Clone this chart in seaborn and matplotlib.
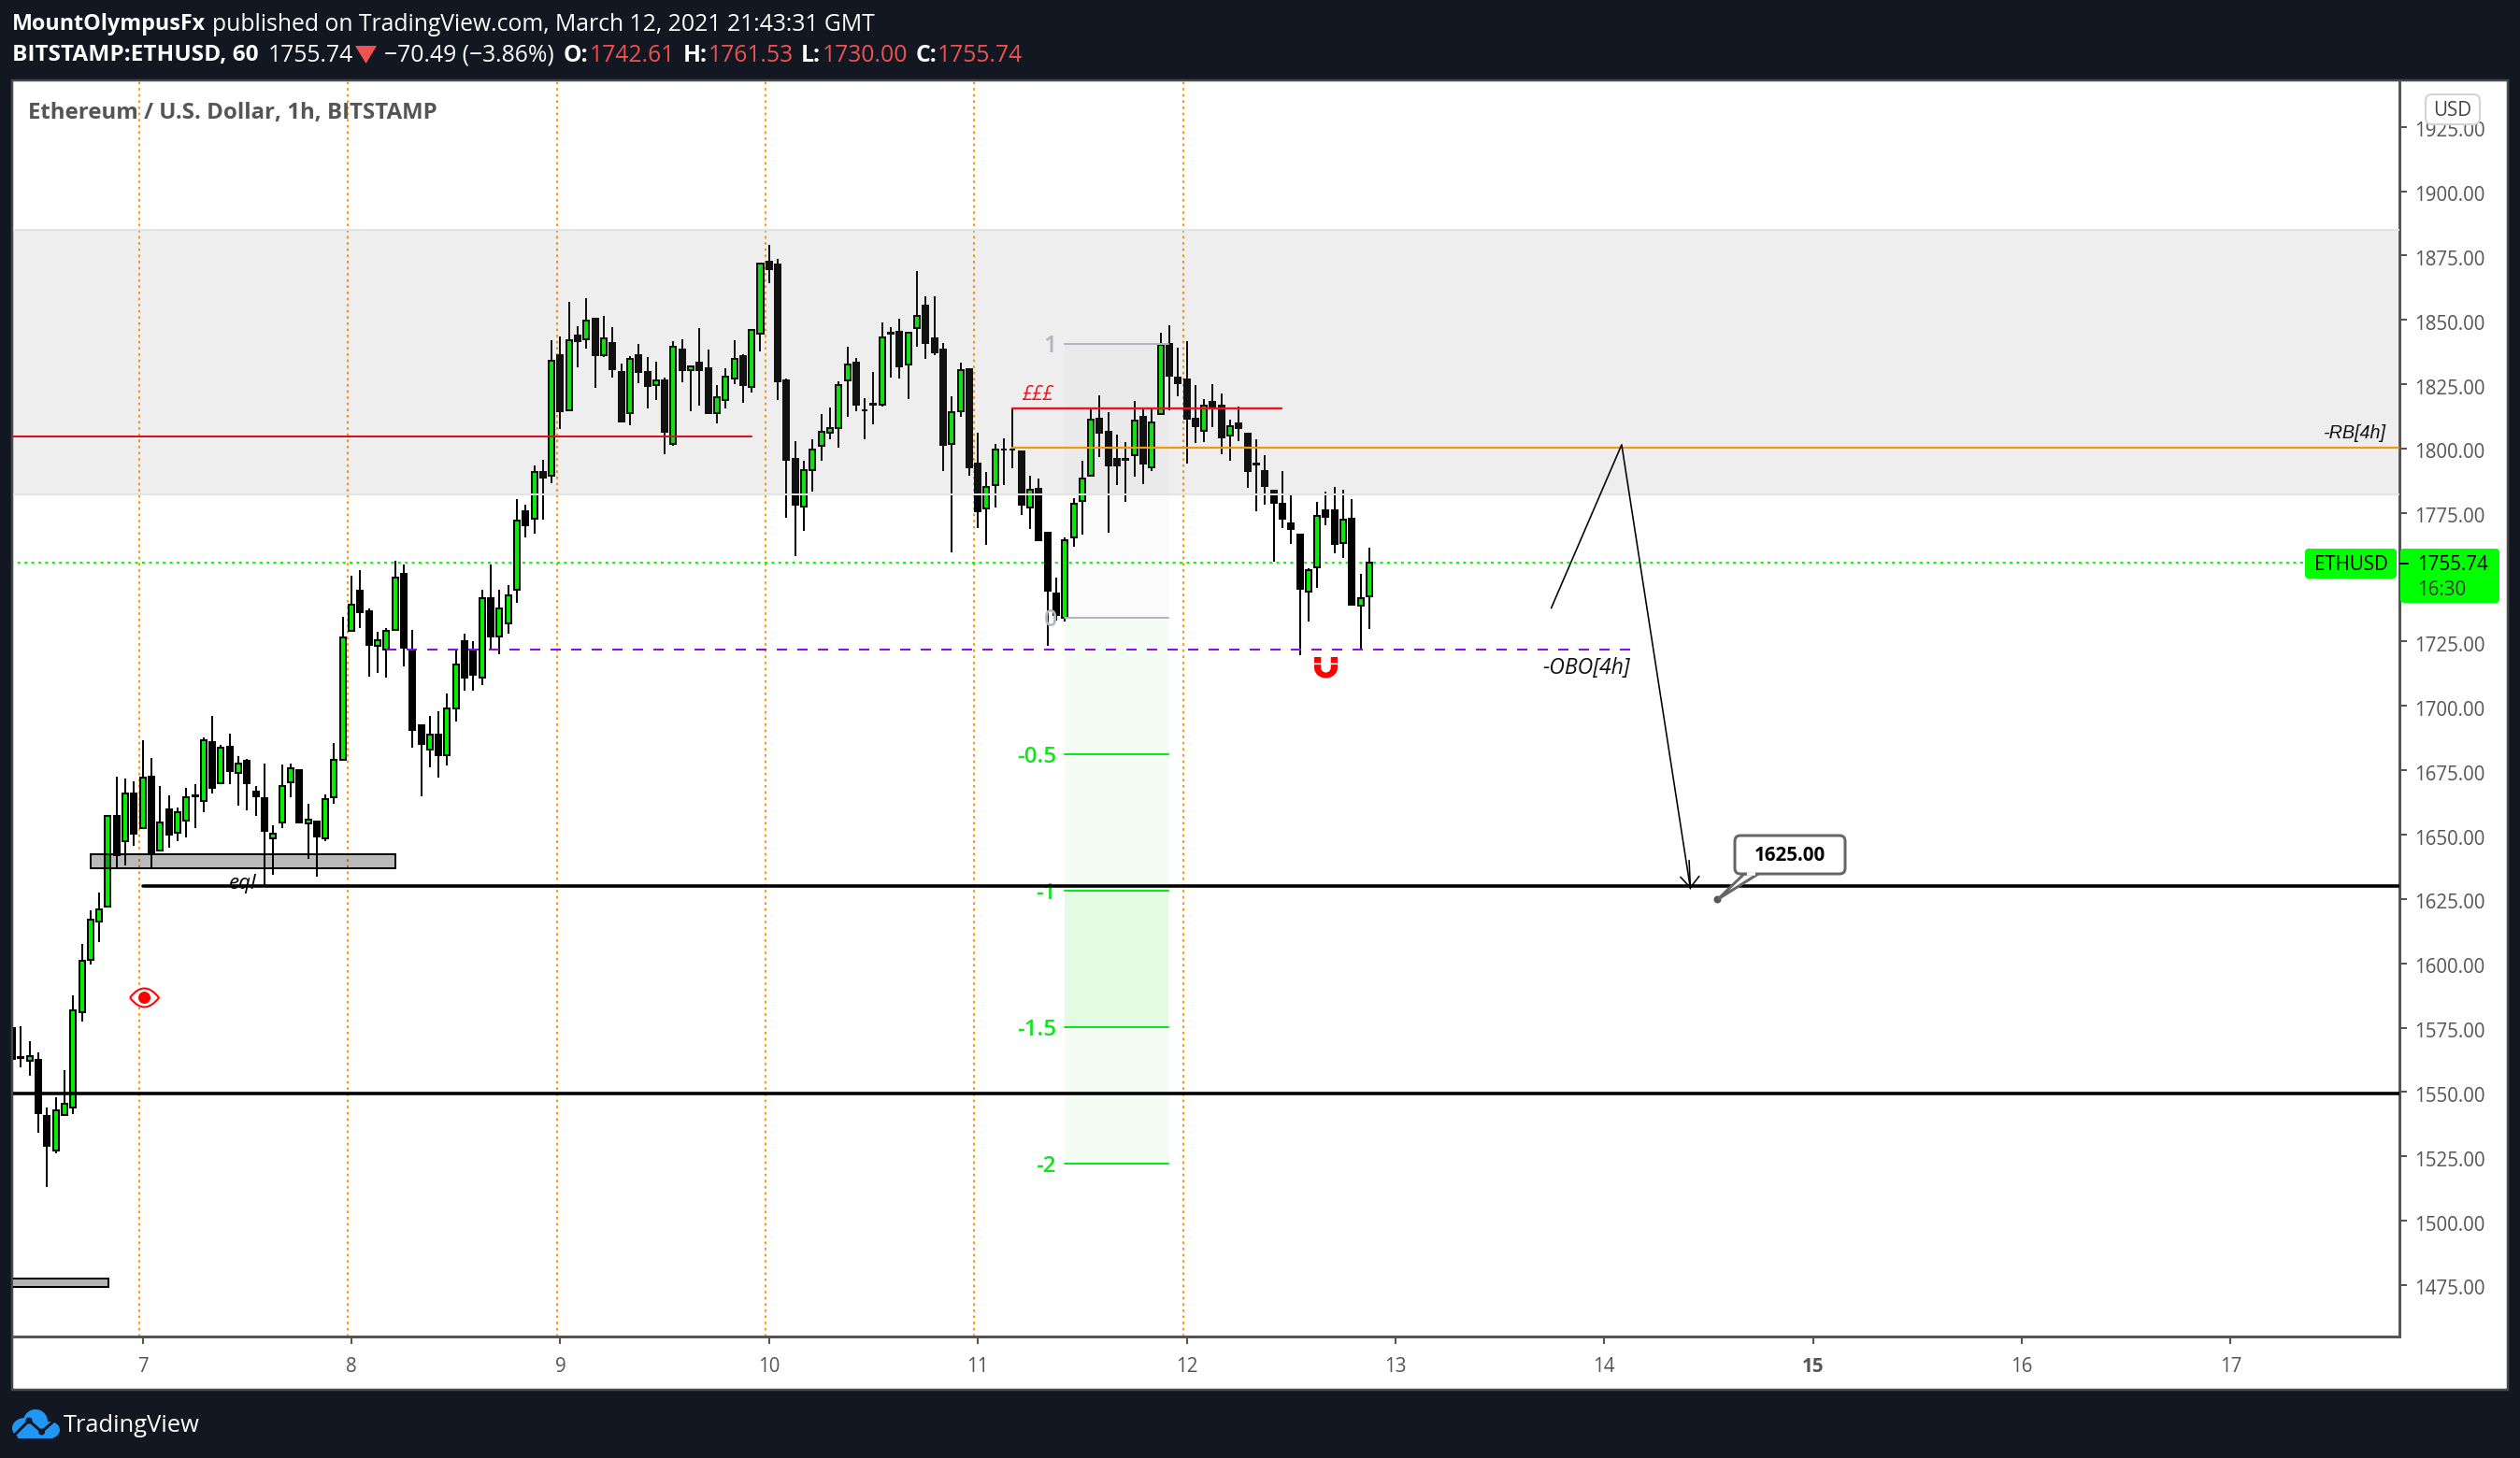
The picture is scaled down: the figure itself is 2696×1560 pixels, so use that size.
import numpy as np
import pandas as pd
import seaborn as sns
import matplotlib
matplotlib.use("Agg")
import matplotlib.pyplot as plt
from matplotlib.patches import Rectangle, FancyBboxPatch, Polygon, Circle, Ellipse
from matplotlib.path import Path
from matplotlib.transforms import ScaledTranslation

# candles, hours counted from March 7 00:00
hours = list(range(-15, 142))
opens = [1574.9,1563.7,1562.2,1562.5,1540.8,1527.1,1541.0,1544.1,1580.9,1601.3,1616.3,1622.1,1657.4,1647.5,1666.1,
         1652.6,1672.6,1643.9,1659.8,1650.8,1655.5,1665.2,1663.1,1686.0,1670.0,1684.2,1674.0,1678.7,1666.7,1664.2,1648.5,1654.6,
         1670.4,1675.1,1654.3,1655.0,1648.7,1664.6,1679.1,1729.2,1744.8,1736.8,1723.4,1721.9,1729.4,1751.3,1721.2,1692.5,
         1683,1689,1681,1699,1725,1722,1711,1742,1727,1732,1745,1775.7,1772.8,1790.9,1789.5,1836.3,1814.8,1843.9,1842.4,
         1850.5,1836.2,1841.0,1829.8,1813.7,1836.3,1829.8,1824.8,1826.5,1801.9,1838.5,1830.4,1833.4,1831.2,1813.9,1819.0,
         1827.4,1836.0,1823.9,1844.6,1872.6,1871.5,1826.5,1796.0,1777.6,1791.5,1801.0,1806.1,1807.9,1826.5,1833.4,1815.0,
         1817.4,1817.2,1845.0,1845.4,1832.6,1846.8,1855.6,1842.9,1838.5,1801.7,1814.4,1830.9,1794.2,1776.6,1785.8,1799.8,
         1799.8,1798.8,1777.0,1784.3,1767.2,1743.7,1734.4,1765.4,1779.6,1789.5,1811.6,1806.5,1796.0,1796.1,1797.5,1812.4,
         1792.9,1813.3,1840.7,1827.6,1826.9,1811.6,1806.8,1818.2,1816.6,1805.1,1809.8,1805.8,1794.2,1791.3,1783.7,1778.6,
         1770.9,1766.6,1744.3,1753.8,1775.9,1775.9,1763.3,1772.6,1739.0,1742.61]
highs = [1583.6,1575.6,1569.8,1565.4,1544.0,1548.0,1558.5,1587.6,1607.6,1620.6,1627.5,1657.4,1672.6,1671.7,1670.7,
         1686.7,1679.8,1668.9,1665.3,1660.6,1668.2,1669.7,1687.7,1696.2,1684.9,1689.3,1680.5,1679.3,1668.9,1677.6,1653.7,1677.3,
         1677.6,1675.1,1662.0,1655.4,1665.7,1685.6,1734.7,1750.6,1752.8,1737.9,1728.8,1730.2,1756.4,1755.0,1729.6,1693,
         1696,1698,1705,1722,1728,1725,1745,1755,1745,1747,1780.4,1778.2,1793.5,1795.6,1842.1,1843.6,1857.0,1847.6,1858.5,
         1850.5,1851.6,1847.2,1833.0,1835.9,1840.7,1835.6,1833.8,1827.6,1841.8,1842.5,1832.1,1846.8,1838.5,1824.7,1831.2,
         1842.1,1836.6,1846.2,1872.0,1879.2,1873.7,1827.2,1802.9,1795.3,1803.6,1813.4,1816.0,1826.0,1839.6,1835.2,1819.6,
         1829.8,1849.0,1847.2,1850.5,1845.1,1869.0,1859.2,1859.2,1841.0,1820.3,1833.4,1830.9,1806.2,1790.9,1801.8,1804.0,
         1815.5,1798.8,1789.5,1788.4,1767.2,1749.8,1765.5,1780.6,1795.2,1815.1,1820.7,1814.2,1805.5,1802.5,1818.5,1815.1,
         1815.1,1845.0,1847.8,1839.2,1841.8,1824.7,1819.2,1825.1,1821.4,1811.3,1816.3,1805.8,1803.6,1797.5,1783.7,1791.3,
         1782.6,1766.6,1753.4,1779.2,1783.3,1785.1,1784.0,1780.4,1751.4,1761.53]
lows = [1560.8,1559.6,1556.4,1534.0,1513.1,1526.2,1541.0,1541.6,1577.5,1599.7,1608.2,1622.1,1637.2,1638.2,1645.7,
        1652.6,1637.2,1643.9,1645.1,1647.5,1649.0,1652.6,1658.7,1666.0,1670.0,1669.7,1661.3,1659.5,1657.3,1630.5,1634.5,1652.6,
        1664.6,1654.8,1640.7,1633.8,1647.3,1662.1,1679.1,1729.2,1730.3,1711.4,1712.9,1711.0,1729.4,1715.4,1683.8,1665,
        1676,1672,1677,1694,1706,1706,1708,1722,1720,1728,1740,1765.5,1767.1,1772.4,1786.7,1807.6,1814.8,1831.6,1838.9,
        1823.6,1835.6,1827.6,1810.5,1809.1,1825.4,1815.6,1818.9,1797.8,1801.1,1825.8,1814.5,1816.7,1813.8,1809.8,1815.6,
        1825.1,1817.8,1821.8,1837.8,1864.3,1818.9,1773.1,1758.2,1768.0,1783.3,1795.3,1803.6,1800.4,1812.3,1814.5,1803.6,
        1809.4,1816.4,1827.6,1827.2,1819.3,1839.6,1834.9,1836.3,1791.3,1759.5,1812.3,1789.5,1769.1,1762.6,1777.1,1785.8,
        1792.4,1774.2,1768.8,1764.4,1723.2,1733,1732.8,1761.9,1766.6,1789.5,1796.7,1767.3,1785.8,1779.3,1789.1,1786.2,
        1791.3,1813.3,1814.9,1820.3,1794.2,1802.2,1802.6,1808.4,1797.8,1795.3,1802.9,1784.8,1775.7,1778.2,1756.1,1769.1,
        1763.0,1719.8,1732.8,1745.9,1770.2,1759.3,1757.5,1739.5,1722.0,1730.00]
closes = [1563.0,1563.3,1564.0,1541.9,1528.9,1542.8,1545.6,1581.6,1601.1,1617.0,1621.1,1657.4,1642.1,1666.1,1650.5,
          1672.3,1642.3,1654.8,1649.9,1658.7,1664.7,1664.9,1686.8,1668.3,1683.9,1674.7,1677.6,1669.8,1664.9,1651.5,1650.5,1669.0,
          1675.9,1654.8,1655.7,1649.4,1663.9,1679.2,1726.8,1739.5,1736.6,1723.9,1725.7,1729.0,1749.7,1722.5,1690.8,1685.3,
          1689,1681,1699,1716,1711,1712,1742,1727,1738,1743,1772.2,1770.3,1790.9,1788.9,1834.3,1814.5,1842.2,1841.8,1849.9,
          1836.3,1843.0,1830.9,1810.5,1835.0,1829.8,1824.3,1826.6,1806.5,1839.7,1830.5,1832.1,1830.5,1813.8,1819.9,1828.1,
          1835.0,1824.7,1846.2,1872.0,1869.7,1826.1,1795.6,1778.2,1791.8,1799.5,1806.4,1807.8,1824.8,1832.6,1817.2,1814.7,
          1817.1,1843.3,1844.7,1832.0,1845.1,1851.7,1841.2,1837.4,1801.5,1814.3,1830.6,1792.7,1775.7,1785.2,1799.8,1799.5,
          1799.5,1778.2,1784.1,1764.5,1744.9,1735.3,1764.5,1778.7,1788.5,1811.4,1806.3,1793.6,1793.6,1795.8,1810.7,1794.2,
          1810.3,1840.3,1828.3,1825.4,1811.6,1808.7,1816.6,1816.0,1804.4,1808.8,1808.0,1791.3,1793.9,1785.5,1778.9,1772.8,
          1768.8,1745.5,1752.9,1774.0,1773.6,1763.1,1772.5,1739.5,1741.9,1755.74]

price_ticks = [1475,1500,1525,1550,1575,1600,1625,1650,1675,1700,1725,1750,1775,1800,1825,1850,1875,1900,1925]
day_ticks = [0,24,48,72,96,120,144,168,192,216,240]
day_labels = ['7','8','9','10','11','12','13','14','15','16','17']
session_lines = [-0.4,23.6,47.6,71.6,95.6,119.6]

zone_low, zone_high = 1782.1, 1885.0
last_price = 1755.74
fib_hours = [106, 117.9]
fib_top, fib_zero = 1840.8, 1734.4
fib_levels = [1681.4, 1628.2, 1575.1, 1522.2]
fib_labels = ['-0.5', '-1', '-1.5', '-2']
path_hours = [161.9, 170.0, 177.9]
path_prices = [1738.0, 1801.5, 1629.0]

sns.set_theme(style='white')
plt.rcParams['font.family'] = ['Open Sans', 'DejaVu Sans']

W, H = 2696, 1560
DARK = '#131722'
PX = 72 / 200  # one pixel in points
GREY = '#555555'

fig = plt.figure(figsize=(W / 200, H / 200), dpi=200, facecolor=DARK)


def px_axes(z):
    a = fig.add_axes([0, 0, 1, 1], zorder=z)
    a.set_xlim(0, W)
    a.set_ylim(H, 0)
    a.axis('off')
    a.patch.set_visible(False)
    return a


back = px_axes(0)
back.add_patch(Rectangle((13, 86), 2670, 1400.5, fc='white', ec='#4a4a4a', lw=2.5 * PX))

ax = fig.add_axes([14 / W, 1 - 1430 / H, (2567 - 14) / W, (1430 - 87) / H], zorder=1)
ax.patch.set_visible(False)

# fib background, very faint
ax.fill_between(fib_hours, fib_zero, fib_top, color='#fbfbfb', lw=0, zorder=1)
ax.fill_between(fib_hours, fib_levels[1], fib_zero, color='#f3fdf3', lw=0, zorder=1)
ax.fill_between(fib_hours, fib_levels[2], fib_levels[1], color='#e2fbe2', lw=0, zorder=1)
ax.fill_between(fib_hours, fib_levels[3], fib_levels[2], color='#f3fdf3', lw=0, zorder=1)

for h in session_lines:
    ax.axvline(h, color='#ff9800', lw=2 * PX, ls=(0, (1.3, 2.0)), zorder=1.5)

# candles: wicks through seaborn, bodies as bars
wick_df = pd.DataFrame({
    'candle': np.repeat(hours, 2),
    'hour': np.repeat(hours, 2),
    'price': np.column_stack([lows, highs]).ravel(),
})
sns.lineplot(data=wick_df, x='hour', y='price', units='candle', estimator=None,
             color='black', linewidth=2 * PX, ax=ax, legend=False, zorder=3,
             solid_capstyle='butt')

o = np.array(opens)
c = np.array(closes)
up = c > o
ax.bar(np.array(hours)[up], (c - o)[up], bottom=o[up], width=0.645, color='#00ee00',
       edgecolor='black', linewidth=2 * PX, zorder=3.2)
ax.bar(np.array(hours)[~up], (c - o)[~up], bottom=o[~up], width=0.645, color='black',
       edgecolor='black', linewidth=2 * PX, zorder=3.2)

# grey zone sits over the candles
ax.axhspan(zone_low, zone_high, color=(0.5, 0.5, 0.5), alpha=0.135, lw=0, zorder=4)
ax.axhline(zone_low, color='#e3e3e3', lw=2 * PX, zorder=4)
ax.axhline(zone_high, color='#e3e3e3', lw=2 * PX, zorder=4)

# drawn levels
ax.plot([-16, 70], [1804.7, 1804.7], color='#d8101c', lw=2 * PX, zorder=5)
ax.plot([100, 130.9], [1815.6, 1815.6], color='#ee1120', lw=2.4 * PX, zorder=5)
ax.plot([100, 260], [1800.2, 1800.2], color='#f09810', lw=2.2 * PX, zorder=5)
ax.plot([-16, 248.5], [last_price, last_price], color='#00ff00', lw=2 * PX,
        ls=(0, (1.5, 2.2)), zorder=2)
ax.plot([28.0, 171.0], [1722.0, 1722.0], color='#9c00ff', lw=2 * PX,
        ls=(0, (5.5, 5.5)), zorder=5)
ax.plot([0, 260], [1630, 1630], color='black', lw=3.6 * PX, zorder=5)
ax.plot([-16, 260], [1549.4, 1549.4], color='black', lw=3.6 * PX, zorder=5)

# fib lines and labels
for v in [fib_top, fib_zero]:
    ax.plot(fib_hours, [v, v], color='#b2b5be', lw=2 * PX, zorder=5)
ax.text(104.3, fib_top, '1', color='#b2b5be', fontsize=9, fontweight='semibold',
        ha='center', va='center_baseline', zorder=6)
ax.text(104.4, fib_zero, '0', color='#b2b5be', fontsize=9, fontweight='semibold',
        ha='center', va='center_baseline', zorder=6)
for v, lab in zip(fib_levels, fib_labels):
    ax.plot(fib_hours, [v, v], color='#0be81a', lw=2 * PX, zorder=5)
    ax.text(105, v, lab, color='#0be81a', fontsize=8.7, fontweight='semibold',
            ha='right', va='center_baseline', zorder=4.5)

# supply boxes
ax.add_patch(Rectangle((-6, 1637.1), 35, 5.1, fc=(0, 0, 0, 0.27), ec='black', lw=2 * PX, zorder=5))
ax.add_patch(Rectangle((-16, 1474.4), 12.1, 3.2, fc=(0.7, 0.7, 0.7), ec='black', lw=2 * PX, zorder=5))

ax.text(11.5, 1631.0, 'eql', style='italic', color='black', fontsize=8.0, ha='center', va='center', zorder=6)
ax.text(102.9, 1820.7, '£££', style='italic', color='#ee1120', fontsize=7.4, ha='center', va='center', zorder=6)
ax.text(171, 1714.5, '-OBO[4h]', style='italic', color='#111111', fontsize=8.3, ha='right', va='center', zorder=6)
ax.text(257.9, 1806.0, '-RB[4h]', style='italic', family='Liberation Sans', color='#111111',
        fontsize=7.1, ha='right', va='center', zorder=6)

# projected path
path_df = pd.DataFrame({'order': range(3), 'hour': path_hours, 'price': path_prices})
sns.lineplot(data=path_df, x='hour', y='price', sort=False, estimator=None,
             color='black', linewidth=1.6 * PX, ax=ax, legend=False, zorder=6)
ax.annotate('', xy=(path_hours[2], path_prices[2]), xytext=(177.75, 1640),
            arrowprops=dict(arrowstyle='->,head_length=0.35,head_width=0.3', color='black',
                            lw=1.6 * PX, shrinkA=0, shrinkB=0), zorder=6)

# eye icon
eye = Path([(-1, 0), (0, 1.3), (1, 0), (0, -1.3), (-1, 0)],
           [Path.MOVETO, Path.CURVE3, Path.CURVE3, Path.CURVE3, Path.CURVE3])
ax.plot([0.1], [1587.0], marker=eye, ms=31 * 1.3 * PX, mfc='white', mec='#ff0000', mew=2 * PX, zorder=6)
ax.plot([0.1], [1587.0], marker='o', ms=13 * PX, mfc='#ff0000', mec='#ff0000', mew=0, zorder=6.1)

# magnet icon
theta = np.linspace(np.pi, 2 * np.pi, 30)
outer = np.column_stack([np.cos(theta), 0.9 * np.sin(theta) + 0.1])
inner = np.column_stack([0.42 * np.cos(theta[::-1]), 0.42 * np.sin(theta[::-1]) + 0.1])
body = np.vstack([[(-1, 0.35)], outer, [(1, 0.35), (0.42, 0.35)], inner, [(-0.42, 0.35), (-1, 0.35)]])
arm_l = np.array([(-1, 1), (-0.42, 1), (-0.42, 0.48), (-1, 0.48), (-1, 1)])
arm_r = arm_l * [-1, 1]
verts = np.vstack([body, arm_l, arm_r])
codes = []
for part in (body, arm_l, arm_r):
    codes += [Path.MOVETO] + [Path.LINETO] * (len(part) - 2) + [Path.CLOSEPOLY]
ax.plot([136.0], [1714.5], marker=Path(verts, codes), ms=25 * PX, mfc='#ff0000', mec='none', zorder=6)

# callout anchor
ax.plot([181.0], [1625.0], marker='o', ms=8 * PX, color='#555555', mew=0, zorder=6.5)

# axes
ax.set_xlim(-14.9, 259.4)
ax.set_ylim(1455.0, 1942.7)
ax.set_xlabel('')
ax.set_ylabel('')
ax.yaxis.tick_right()
# 1750 sits behind the last price tag, so it gets no label
ax.set_yticks(price_ticks, ['' if p == 1750 else f'{p:.2f}' for p in price_ticks])
ax.set_xticks(day_ticks, day_labels)
ax.tick_params(axis='both', length=8 * PX, width=2 * PX, color=GREY, labelcolor=GREY,
               labelsize=7.4, pad=8 * PX, left=False, right=True, bottom=True)
ax.tick_params(axis='x', pad=14 * PX)
shift_down = ScaledTranslation(0, -2.5 / 200, fig.dpi_scale_trans)
for t in ax.get_yticklabels():
    t.set_va('center_baseline')
    t.set_transform(t.get_transform() + shift_down)
for t in ax.get_xticklabels():
    if t.get_text() == '15':
        t.set_fontweight('bold')
for s in ['left', 'top']:
    ax.spines[s].set_visible(False)
for s in ['right', 'bottom']:
    ax.spines[s].set_color(GREY)
    ax.spines[s].set_linewidth(3 * PX)
ax.grid(False)

# overlay: tags, header, title, logo
top = px_axes(3)


def tx(x, y, s, color='white', size=8.9, weight='normal', ha='left', **kw):
    top.text(x, y + 1.5, s, color=color, fontsize=size, fontweight=weight, ha=ha, va='center', **kw)


def tag(x0, y0, x1, y1, fc, ec='none', lw=0.0, r=4):
    top.add_patch(FancyBboxPatch((x0 + r, y0 + r), x1 - x0 - 2 * r, y1 - y0 - 2 * r,
                                 boxstyle=f'round,pad={r},rounding_size={r}', fc=fc, ec=ec, lw=lw))


tx(13, 25, 'MountOlympusFx', size=8.4, weight='bold')
tx(227, 25, 'published on TradingView.com, March 12, 2021 21:43:31 GMT')
RED = '#ef5350'
tx(13, 58, 'BITSTAMP:ETHUSD, 60', size=8.8, weight='bold')
tx(287, 58, '1755.74')
top.add_patch(Polygon([(380, 49), (403, 49), (391.5, 68)], fc=RED, ec='none'))
tx(411, 58, '−70.49 (−3.86%)')
for x_l, lab, x_v, val in [(603, 'O:', 631, '1742.61'), (731, 'H:', 758, '1761.53'),
                           (857, 'L:', 880, '1730.00'), (980, 'C:', 1003, '1755.74')]:
    tx(x_l, 58, lab, weight='bold')
    tx(x_v, 58, val, color=RED)

tx(30, 120, 'Ethereum / U.S. Dollar, 1h, BITSTAMP', color='#555555', size=8.65, weight='bold')

tag(2595, 101, 2653, 133, 'white', ec='#d0d3dc', lw=2 * PX, r=7)
tx(2624, 117, 'USD', color='#444444', size=7.4, ha='center')

tag(2466, 587, 2564, 619, '#00ff00')
tx(2515, 603, 'ETHUSD', color='black', size=7.4, ha='center')
tag(2568, 587, 2674, 645, '#00ff00')
top.plot([2568, 2576], [603, 603], color='black', lw=2 * PX)
tx(2586, 603, '1755.74', color='black', size=7.4)
tx(2586, 630, '16:30', color='#333333', size=7.4)

# callout box
top.add_patch(Polygon([(1866, 935), (1838, 962), (1881, 935)], fc='white', ec='#666666', lw=3 * PX))
tag(1856, 894, 1974, 935, 'white', ec='#666666', lw=3 * PX, r=6)
top.plot([1869, 1878], [935, 935], color='white', lw=3.5 * PX, solid_capstyle='butt')
tx(1915, 914, '1625.00', color='black', size=7.4, weight='bold', ha='center')

# logo
BLUE = '#2196f3'
for cx, cy, rx, ry in [(27, 1528, 14, 11), (38, 1521, 13, 13), (53, 1530, 11, 9)]:
    top.add_patch(Ellipse((cx, cy), 2 * rx, 2 * ry, fc=BLUE, ec='none'))
top.add_patch(Rectangle((19, 1528), 38, 11, fc=BLUE, ec='none'))
top.plot([15, 31, 44.6, 57], [1536, 1520, 1532, 1521], color=DARK, lw=3 * PX)
top.add_patch(Circle((31, 1520), 3.5, fc=DARK, ec='none'))
top.add_patch(Circle((44.6, 1532), 3.5, fc=DARK, ec='none'))
tx(68, 1524, 'TradingView', size=9.2)

fig.savefig('out.png', dpi=200, facecolor=DARK)
